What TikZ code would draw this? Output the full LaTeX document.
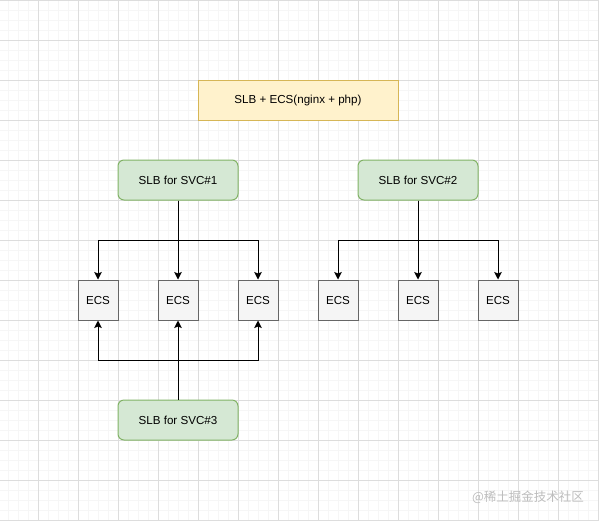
\documentclass[tikz,border=0pt]{standalone}
\usepackage{fontspec}
\setmainfont{Liberation Sans}
\newfontfamily\cjkfont{Noto Sans CJK SC}
\usetikzlibrary{arrows.meta}
\definecolor{gridminor}{HTML}{F6F6F6}
\definecolor{gridmajor}{HTML}{DDDDDD}
\definecolor{yfill}{HTML}{FFF2CC}
\definecolor{ydraw}{HTML}{D6B656}
\definecolor{gfill}{HTML}{D5E8D4}
\definecolor{gdraw}{HTML}{82B366}
\definecolor{efill}{HTML}{F5F5F5}
\definecolor{edraw}{HTML}{666666}
\definecolor{wmark}{HTML}{BDBDBD}
\tikzset{
  titlebox/.style={draw=ydraw, fill=yfill, line width=1pt, minimum width=200pt, minimum height=40pt, inner sep=0pt, font=\fontsize{11.6}{13}\selectfont},
  slbbox/.style={draw=gdraw, fill=gfill, line width=1pt, rounded corners=6pt, minimum width=120pt, minimum height=40pt, inner sep=0pt, font=\fontsize{11.6}{13}\selectfont},
  ecsbox/.style={draw=edraw, fill=efill, line width=1pt, minimum width=40pt, minimum height=40pt, inner sep=0pt, font=\fontsize{11.6}{13}\selectfont},
  conn/.style={draw=black, line width=1pt, -{Stealth[length=7.5pt,width=7.5pt,inset=1.5pt]}},
}
\begin{document}
\begin{tikzpicture}[x=1pt,y=-1pt]
\useasboundingbox (0,0) rectangle (599,520);
\fill[white] (0,0) rectangle (599,520);
% grid
\foreach \i in {0,...,60} {\draw[gridminor, line width=0.6pt] (\i*10-2,0) -- (\i*10-2,520);}
\foreach \j in {0,...,52} {\draw[gridminor, line width=0.6pt] (0,\j*10) -- (599,\j*10);}
\foreach \i in {0,...,14} {\draw[gridmajor, line width=0.8pt] (38+\i*40,0) -- (38+\i*40,520);}
\foreach \j in {0,...,13} {\draw[gridmajor, line width=0.8pt] (0,\j*40) -- (599,\j*40);}
% nodes
\node[titlebox] (title) at (298,100) {SLB + ECS(nginx + php)};
\node[slbbox] (s1) at (178,180) {SLB for SVC\#1};
\node[slbbox] (s2) at (418,180) {SLB for SVC\#2};
\node[slbbox] (s3) at (178,420) {SLB for SVC\#3};
\node[ecsbox] (e1) at (98,300) {ECS};
\node[ecsbox] (e2) at (178,300) {ECS};
\node[ecsbox] (e3) at (258,300) {ECS};
\node[ecsbox] (e4) at (338,300) {ECS};
\node[ecsbox] (e5) at (418,300) {ECS};
\node[ecsbox] (e6) at (498,300) {ECS};
% junctions
\coordinate (j1) at (178,240);
\coordinate (j2) at (418,240);
\coordinate (j3) at (178,360);
% connectors
\draw[conn] (s1.south) -- (j1) -| (e1.north);
\draw[conn] (s1.south) -- (e2.north);
\draw[conn] (s1.south) -- (j1) -| (e3.north);
\draw[conn] (s2.south) -- (j2) -| (e4.north);
\draw[conn] (s2.south) -- (e5.north);
\draw[conn] (s2.south) -- (j2) -| (e6.north);
\draw[conn] (s3.north) -- (j3) -| (e1.south);
\draw[conn] (s3.north) -- (e2.south);
\draw[conn] (s3.north) -- (j3) -| (e3.south);
% watermark
\node[text=wmark, font=\cjkfont\fontsize{12.5}{14}\selectfont, inner sep=0pt] (wm) at (528,497) {@稀土掘金技术社区};
\end{tikzpicture}
\end{document}
